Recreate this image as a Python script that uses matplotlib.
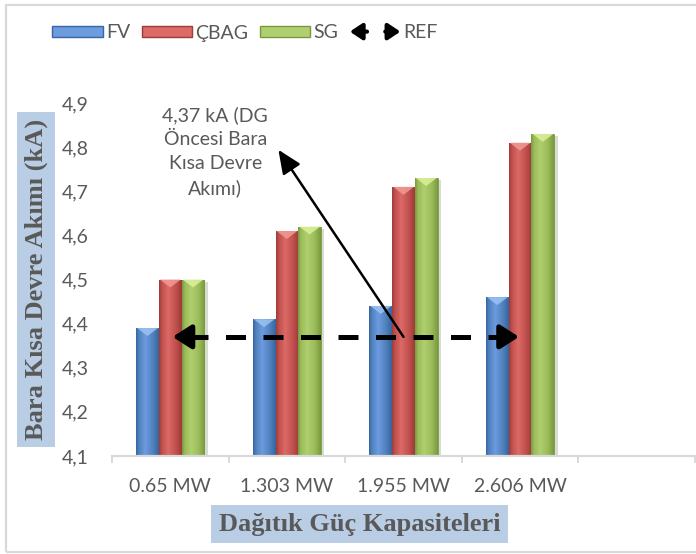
import numpy as np
import matplotlib
matplotlib.use("Agg")
import matplotlib.pyplot as plt
from matplotlib.patches import Rectangle, Polygon, FancyArrowPatch, Patch
from matplotlib.legend_handler import HandlerBase
from matplotlib.colors import LinearSegmentedColormap
from matplotlib.lines import Line2D
import matplotlib.patheffects as pe

# ---- data -------------------------------------------------------------
categories = ["0.65 MW", "1.303 MW", "1.955 MW", "2.606 MW"]
series_names = ["FV", "ÇBAG", "SG"]
fv = [4.39, 4.41, 4.44, 4.46]
cbag = [4.50, 4.61, 4.71, 4.81]
sg = [4.50, 4.62, 4.73, 4.83]
ref_value = 4.37
y_ticks = [4.1, 4.2, 4.3, 4.4, 4.5, 4.6, 4.7, 4.8, 4.9]
y_tick_labels = ["4,1", "4,2", "4,3", "4,4", "4,5", "4,6", "4,7", "4,8", "4,9"]
note_text = "4,37 kA (DG\nÖncesi Bara\nKısa Devre\nAkımı)"
x_title = "Dağıtık Güç Kapasiteleri"
y_title = "Bara Kısa Devre Akımı (kA)"

# ---- styling ----------------------------------------------------------
TEXT = "#595959"
AXIS = "#d9d9d9"
TITLE_BG = "#b9cde5"
SANS = ["Lato", "DejaVu Sans"]
SERIF = ["Liberation Serif", "DejaVu Serif"]
FS = 14
palettes = [
    # dark edge, body, highlight, bevel
    ("#36659f", "#4f81bd", "#6c9be0", "#9cc3f2"),
    ("#9c3b38", "#c0504d", "#dc6a66", "#f29a96"),
    ("#789a3f", "#9bbb59", "#b0d070", "#dcf09a"),
]

plt.rcParams["font.family"] = SANS
fig = plt.figure(figsize=(6.96, 5.54), dpi=100)
ax = fig.add_axes([112 / 696, 1 - 456 / 554, 583 / 696, 353 / 554])

n_slots = len(categories) + 1
x = np.arange(len(categories))
bw = 0.195
offsets = [-bw, 0.0, bw]
ymin, ymax = y_ticks[0], y_ticks[-1]


def shade_bar(rect, pal):
    dark, body, light, bevel = pal
    bx, by = rect.get_x(), rect.get_y()
    w, h = rect.get_width(), rect.get_height()
    cmap = LinearSegmentedColormap.from_list(
        "bar", [(0, dark), (0.12, body), (0.4, light), (0.75, body), (1, dark)])
    grad = np.linspace(0, 1, 64).reshape(1, -1)
    im = ax.imshow(grad, cmap=cmap, extent=(bx, bx + w, by, by + h),
                   aspect="auto", origin="lower", interpolation="bicubic",
                   zorder=2.1)
    im.set_clip_path(rect)
    top = by + h
    d = 0.018
    tri = Polygon([(bx + w * 0.04, top), (bx + w * 0.96, top), (bx + w / 2, top - d)],
                  closed=True, facecolor=bevel, edgecolor="none", alpha=0.85, zorder=2.2)
    ax.add_patch(tri)


for vals, off, pal in zip([fv, cbag, sg], offsets, palettes):
    heights = np.array(vals) - ymin
    bars = ax.bar(x + off, heights, bottom=ymin, width=bw, color=pal[1],
                  edgecolor=pal[0], linewidth=0.6, zorder=2)
    for r in bars:
        r.set_path_effects([pe.SimplePatchShadow(offset=(2.5, -1.5), alpha=0.18),
                            pe.Normal()])
        shade_bar(r, pal)

# reference line with arrowheads at both ends
ref_x0, ref_x1 = x[0] + 0.02, x[-1] - 0.01
head = 0.13
ax.plot([ref_x0 + head, ref_x1 - head], [ref_value, ref_value], color="black",
        lw=3.6, dashes=(4, 3.5), solid_capstyle="butt", dash_capstyle="butt", zorder=4)
for tip, tail in [(ref_x0, ref_x0 + head + 0.01), (ref_x1, ref_x1 - head - 0.01)]:
    ax.annotate("", xy=(tip, ref_value), xytext=(tail, ref_value),
                arrowprops=dict(arrowstyle="-|>,head_length=0.7,head_width=0.45",
                                lw=3.6, color="black", mutation_scale=16,
                                shrinkA=0, shrinkB=0),
                zorder=4)

# callout
ax.annotate("", xy=(0.927, 4.794), xytext=(2.0, ref_value),
            arrowprops=dict(arrowstyle="-|>,head_length=0.8,head_width=0.35",
                            lw=1.8, color="black", mutation_scale=18,
                            shrinkA=0, shrinkB=0), zorder=5)
ax.text(0.386, 4.79, note_text, ha="center", va="center", multialignment="center",
        fontsize=FS, color=TEXT, linespacing=1.5, zorder=5)

# axes
ax.set_xlim(-0.5, n_slots - 0.5)
ax.set_ylim(ymin, ymax)
ax.set_yticks(y_ticks, labels=y_tick_labels)
ax.set_xticks(np.arange(-0.5, n_slots), labels=[""] * (n_slots + 1))
ax.set_xticks(x, labels=categories, minor=True)
for s in ["top", "right", "left"]:
    ax.spines[s].set_visible(False)
ax.spines["bottom"].set_color(AXIS)
ax.spines["bottom"].set_linewidth(1.6)
ax.tick_params(axis="y", length=0, pad=17, labelsize=FS, labelcolor=TEXT)
ax.tick_params(axis="x", which="major", length=5, width=1.4, color=AXIS, direction="out")
ax.tick_params(axis="x", which="minor", length=0, pad=16, labelsize=FS, labelcolor=TEXT)

# axis titles with shaded backgrounds
fig.text(36 / 696, 1 - 279.5 / 554, y_title, rotation=90, ha="center", va="center",
         family=SERIF, fontweight="bold", fontsize=19, color=TEXT,
         bbox=dict(boxstyle="square,pad=0.28", fc=TITLE_BG, ec="none"))
fig.text(359.5 / 696, 1 - 524 / 554, x_title, ha="center", va="center",
         family=SERIF, fontweight="bold", fontsize=19, color=TEXT,
         bbox=dict(boxstyle="square,pad=0.3", fc=TITLE_BG, ec="none"))


# legend
class RefHandler(HandlerBase):
    def create_artists(self, legend, orig_handle, xdescent, ydescent, width,
                       height, fontsize, trans):
        yc = height / 2 - ydescent
        x0 = -xdescent
        arts = []
        for tip, tail in [(x0, x0 + 0.34 * width), (x0 + width, x0 + 0.7 * width)]:
            a = FancyArrowPatch((tail, yc), (tip, yc),
                                arrowstyle="-|>,head_length=0.6,head_width=0.4",
                                mutation_scale=12, lw=3.0, color="black",
                                shrinkA=0, shrinkB=0, transform=trans)
            arts.append(a)
        return arts


handles = [Patch(facecolor=p[2], edgecolor=p[0], lw=1.0) for p in palettes]
ref_handle = Line2D([], [], color="black")
fig.legend(handles + [ref_handle], series_names + ["REF"],
           handler_map={ref_handle: RefHandler()},
           loc="center", bbox_to_anchor=(245 / 696, 1 - 33 / 554), ncol=4,
           frameon=False, fontsize=FS, labelcolor=TEXT,
           handlelength=2.6, handleheight=0.55, handletextpad=0.15,
           columnspacing=0.6)

# chart border
fig.patches.append(Rectangle((6 / 696, 1 - 552 / 554), 1.2, 547 / 554,
                             transform=fig.transFigure, fill=False,
                             ec="#d9d9d9", lw=1.6))

fig.savefig("out.png", dpi=100)
